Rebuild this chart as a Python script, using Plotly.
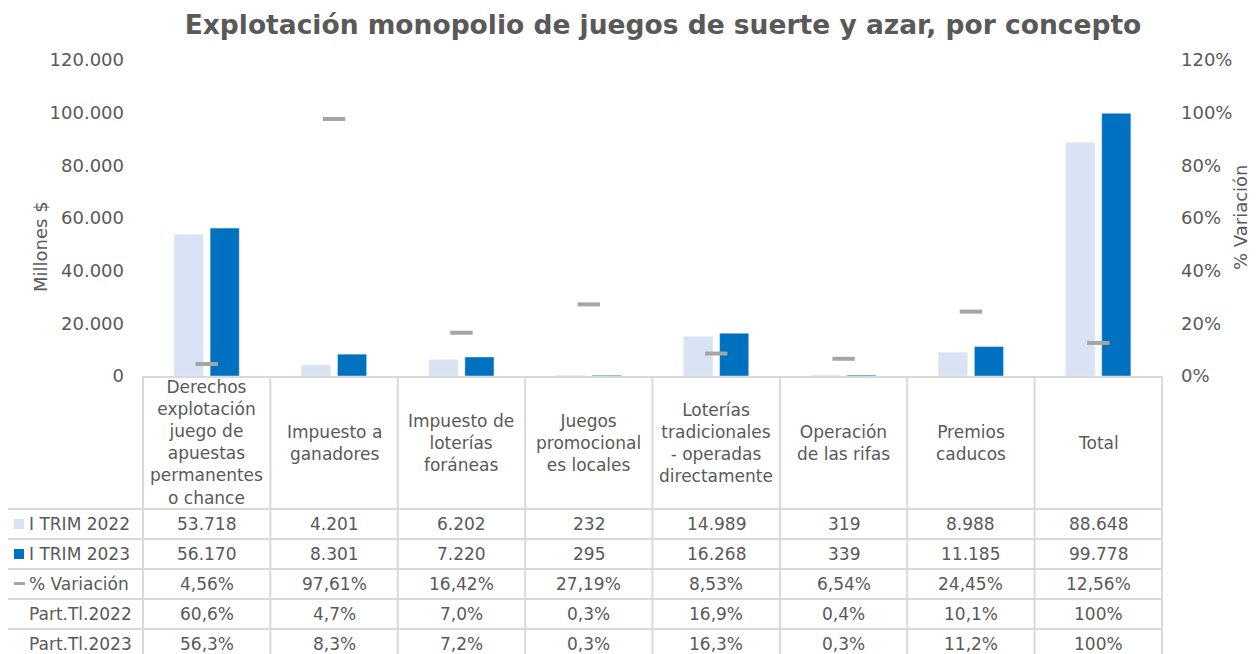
import plotly.graph_objects as go

# ---------------- data ----------------
categories = [
    "Derechos explotación juego de apuestas permanentes o chance",
    "Impuesto a ganadores",
    "Impuesto de loterías foráneas",
    "Juegos promocionales locales",
    "Loterías tradicionales - operadas directamente",
    "Operación de las rifas",
    "Premios caducos",
    "Total",
]
header_labels = [
    "Derechos<br>explotación<br>juego de<br>apuestas<br>permanentes<br>o chance",
    "Impuesto a<br>ganadores",
    "Impuesto de<br>loterías<br>foráneas",
    "Juegos<br>promocional<br>es locales",
    "Loterías<br>tradicionales<br>- operadas<br>directamente",
    "Operación<br>de las rifas",
    "Premios<br>caducos",
    "Total",
]
trim2022 = [53718, 4201, 6202, 232, 14989, 319, 8988, 88648]
trim2023 = [56170, 8301, 7220, 295, 16268, 339, 11185, 99778]
variacion = [4.56, 97.61, 16.42, 27.19, 8.53, 6.54, 24.45, 12.56]   # %
part2022 = [60.6, 4.7, 7.0, 0.3, 16.9, 0.4, 10.1, 100]
part2023 = [56.3, 8.3, 7.2, 0.3, 16.3, 0.3, 11.2, 100]
row_names = ["I TRIM 2022", "I TRIM 2023", "% Variación", "Part.Tl.2022", "Part.Tl.2023"]

# ---------------- style ----------------
OFF = 8                       # page body margin
W, H = 1257 - OFF, 654 - OFF
PL, PR, PT, PB = 143 - OFF, 1162 - OFF, 60 - OFF, 376 - OFF
FONT = "DejaVu Sans"
TXT = "#595959"
GRID = "#D9D9D9"
C22 = "#DAE3F3"
C23 = "#0070C0"
CVAR = "#A5A5A5"


def px2x(px):
    """page x pixel -> paper x"""
    return (px - OFF - PL) / (PR - PL)


def py2y(py):
    """page y pixel -> paper y"""
    return (PB - (py - OFF)) / (PB - PT)


def fmt_int(v):
    return f"{v:,}".replace(",", ".")


def fmt_pct2(v):
    return f"{v:.2f}%".replace(".", ",")


def fmt_pct1(v):
    return "100%" if v == 100 else f"{v:.1f}%".replace(".", ",")


fig = go.Figure()
fig.add_trace(go.Bar(x=categories, y=trim2022, name="I TRIM 2022",
                     marker=dict(color=C22), yaxis="y"))
fig.add_trace(go.Bar(x=categories, y=trim2023, name="I TRIM 2023",
                     marker=dict(color=C23), yaxis="y"))
fig.add_trace(go.Scatter(x=categories, y=[v / 100 for v in variacion], name="% Variación",
                         mode="markers", yaxis="y2",
                         marker=dict(symbol="line-ew", size=16,
                                     line=dict(color=CVAR, width=4))))

# ---------------- table ----------------
shapes = []
row_edges = [509, 539, 569, 599, 629, 659]
for r in row_edges[:-1]:
    shapes.append(dict(type="line", xref="paper", yref="paper",
                       x0=px2x(7), x1=px2x(1162), y0=py2y(r), y1=py2y(r),
                       line=dict(color=GRID, width=2)))
for k in range(len(categories) + 1):
    xv = k / len(categories)
    shapes.append(dict(type="line", xref="paper", yref="paper",
                       x0=xv, x1=xv, y0=0, y1=py2y(665),
                       line=dict(color=GRID, width=2)))
shapes.append(dict(type="line", xref="paper", yref="paper",
                   x0=px2x(7), x1=px2x(7), y0=py2y(509), y1=py2y(665),
                   line=dict(color=GRID, width=2)))
# legend keys
shapes.append(dict(type="rect", xref="paper", yref="paper",
                   x0=px2x(14), x1=px2x(24), y0=py2y(519), y1=py2y(529),
                   fillcolor=C22, line=dict(width=0)))
shapes.append(dict(type="rect", xref="paper", yref="paper",
                   x0=px2x(14), x1=px2x(24), y0=py2y(549), y1=py2y(559),
                   fillcolor=C23, line=dict(width=0)))
shapes.append(dict(type="line", xref="paper", yref="paper",
                   x0=px2x(14), x1=px2x(25), y0=py2y(583.5), y1=py2y(583.5),
                   line=dict(color=CVAR, width=3)))

annotations = []
tfont = dict(family=FONT, size=17, color=TXT)
for cat, lab in zip(categories, header_labels):
    annotations.append(dict(x=cat, xref="x", y=py2y(442.5), yref="paper",
                            text=lab, showarrow=False, font=tfont,
                            xanchor="center", yanchor="middle", align="center"))
rows = [
    [fmt_int(v) for v in trim2022],
    [fmt_int(v) for v in trim2023],
    [fmt_pct2(v) for v in variacion],
    [fmt_pct1(v) for v in part2022],
    [fmt_pct1(v) for v in part2023],
]
for i, (name, vals) in enumerate(zip(row_names, rows)):
    yc = py2y((row_edges[i] + row_edges[i + 1]) / 2)
    annotations.append(dict(x=px2x(27), xref="paper", y=yc, yref="paper",
                            text=name, showarrow=False, font=tfont,
                            xanchor="left", yanchor="middle"))
    for cat, v in zip(categories, vals):
        annotations.append(dict(x=cat, xref="x", y=yc, yref="paper",
                                text=v, showarrow=False, font=tfont,
                                xanchor="center", yanchor="middle"))

annotations.append(dict(x=px2x(40), xref="paper", y=py2y(247), yref="paper",
                        text="Millones $", textangle=-90, showarrow=False,
                        font=dict(family=FONT, size=18, color=TXT),
                        xanchor="center", yanchor="middle"))
annotations.append(dict(x=px2x(1240), xref="paper", y=py2y(217), yref="paper",
                        text="% Variación", textangle=-90, showarrow=False,
                        font=dict(family=FONT, size=18, color=TXT),
                        xanchor="center", yanchor="middle"))

fig.update_layout(
    width=W, height=H,
    margin=dict(l=PL, r=W - PR, t=PT, b=H - PB, autoexpand=False),
    paper_bgcolor="white", plot_bgcolor="white",
    separators=",.",
    showlegend=False,
    barmode="group", bargap=0.435, bargroupgap=0.19,
    font=dict(family=FONT, color=TXT),
    title=dict(text="<b>Explotación monopolio de juegos de suerte y azar, por concepto</b>",
               x=(663 - OFF) / W, xanchor="center", y=1 - (25 - OFF) / H, yanchor="middle",
               font=dict(family=FONT, size=26.5, color=TXT)),
    xaxis=dict(type="category", range=[-0.5, 7.5], showticklabels=False,
               showgrid=False, zeroline=False, showline=True,
               linecolor=GRID, linewidth=2, ticks=""),
    yaxis=dict(range=[0, 120000], dtick=20000, tickformat=",d",
               showgrid=False, zeroline=False, showline=False, ticks="",
               ticklabelstandoff=18,
               tickfont=dict(family=FONT, size=18, color=TXT)),
    yaxis2=dict(range=[0, 1.2], dtick=0.2, tickformat=".0%", overlaying="y",
                side="right", showgrid=False, zeroline=False, showline=False,
                ticks="", ticklabelstandoff=18,
                tickfont=dict(family=FONT, size=18, color=TXT)),
    shapes=shapes,
    annotations=annotations,
)

fig.write_html("out.html")
